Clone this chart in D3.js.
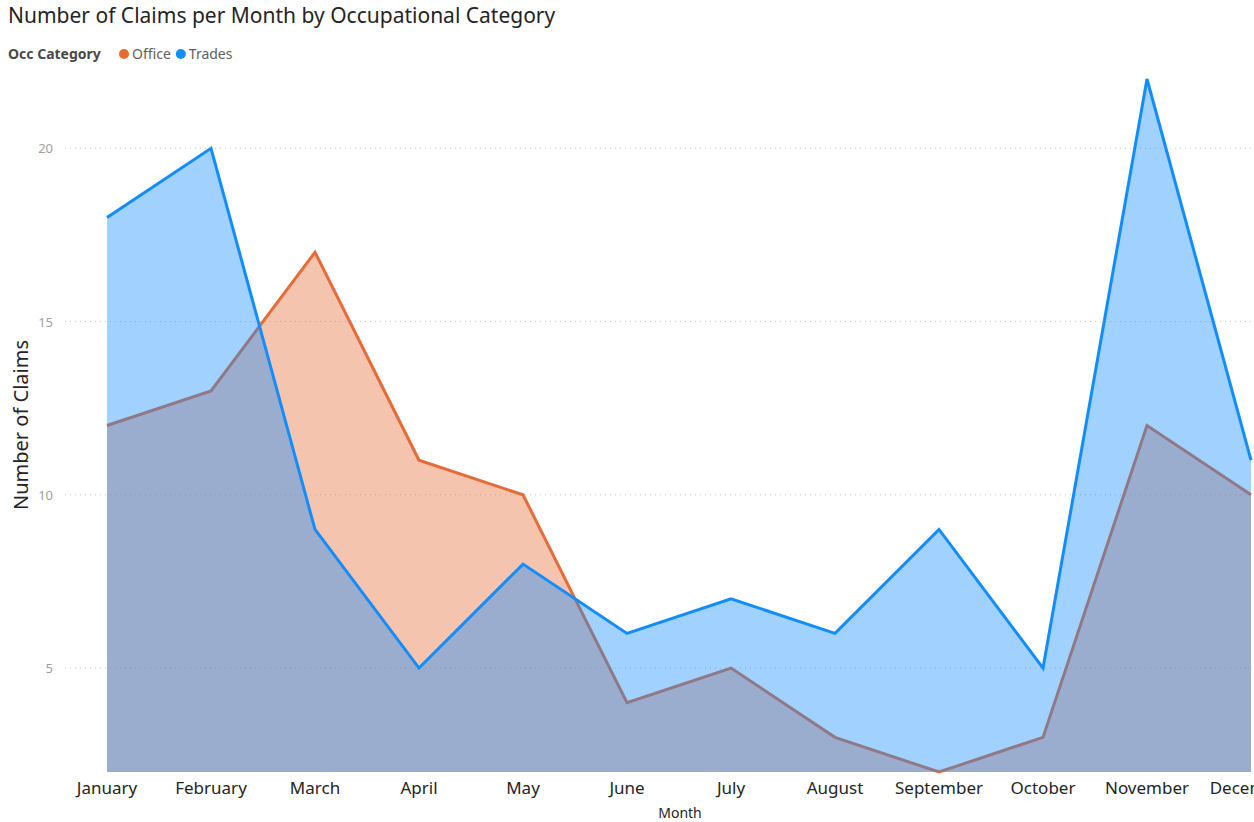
<!DOCTYPE html>
<html>
<head>
<meta charset="utf-8">
<script src="https://cdn.jsdelivr.net/npm/d3@7"></script>
<style>
  body { margin: 0; background: #fff; }
  svg { display: block; font-family: "Noto Sans", "Open Sans", sans-serif; }
</style>
</head>
<body>
<div id="chart"></div>
<script>
// Chart data
const months = ["January", "February", "March", "April", "May", "June",
                "July", "August", "September", "October", "November", "December"];
const office = [12, 13, 17, 11, 10, 4, 5, 3, 2, 3, 12, 10];
const trades = [18, 20, 9, 5, 8, 6, 7, 6, 9, 5, 22, 11];
const yTicks = [5, 10, 15, 20];
const seriesNames = ["Office", "Trades"];
const seriesColors = ["#E66C37", "#118DFF"];

const width = 1254;
const height = 822;

const svg = d3.select("#chart")
  .append("svg")
  .attr("width", width)
  .attr("height", height);

const x = d3.scalePoint()
  .domain(months)
  .range([107, 1251]);

const y = d3.scaleLinear()
  .domain([2, 22])
  .range([772, 79]);

// Title
svg.append("text")
  .attr("x", 8)
  .attr("y", 23)
  .attr("font-size", 21)
  .attr("fill", "#252423")
  .text("Number of Claims per Month by Occupational Category");

// Legend
const legend = svg.append("g").attr("transform", "translate(8,54)");
legend.append("text")
  .attr("x", 0)
  .attr("y", 5)
  .attr("font-size", 14)
  .attr("font-weight", "bold")
  .attr("fill", "#4A4847")
  .text("Occ Category");
let lx = 111;
seriesNames.forEach((name, i) => {
  legend.append("circle")
    .attr("cx", lx + 5)
    .attr("cy", 0)
    .attr("r", 5)
    .attr("fill", seriesColors[i]);
  const t = legend.append("text")
    .attr("x", lx + 13)
    .attr("y", 5)
    .attr("font-size", 14)
    .attr("fill", "#605E5C")
    .text(name);
  lx += 13 + t.node().getComputedTextLength() + 5;
});

// Gridlines + y tick labels
const grid = svg.append("g");
grid.selectAll("line")
  .data(yTicks)
  .join("line")
  .attr("x1", 65)
  .attr("x2", width)
  .attr("y1", d => y(d))
  .attr("y2", d => y(d))
  .attr("stroke", "#C8C6C4")
  .attr("stroke-width", 1)
  .attr("stroke-dasharray", "1,4");
grid.selectAll("text")
  .data(yTicks)
  .join("text")
  .attr("x", 53)
  .attr("y", d => y(d) + 5)
  .attr("text-anchor", "end")
  .attr("font-size", 13)
  .attr("fill", "#A19F9D")
  .text(d => d);

// Y axis title
svg.append("text")
  .attr("transform", "translate(28,425) rotate(-90)")
  .attr("text-anchor", "middle")
  .attr("font-size", 20)
  .attr("fill", "#252423")
  .text("Number of Claims");

// Areas and lines; Office under, Trades on top
const area = d3.area()
  .x((d, i) => x(months[i]))
  .y0(y(2))
  .y1(d => y(d));
const line = d3.line()
  .x((d, i) => x(months[i]))
  .y(d => y(d));

[office, trades].forEach((vals, i) => {
  svg.append("path")
    .datum(vals)
    .attr("d", area)
    .attr("fill", seriesColors[i])
    .attr("fill-opacity", 0.4);
  svg.append("path")
    .datum(vals)
    .attr("d", line)
    .attr("fill", "none")
    .attr("stroke", seriesColors[i])
    .attr("stroke-width", 3)
    .attr("stroke-linejoin", "miter");
});

// X axis labels (December runs off the right edge, as in the source)
svg.append("g").selectAll("text")
  .data(months)
  .join("text")
  .attr("x", d => x(d))
  .attr("y", 794)
  .attr("text-anchor", "middle")
  .attr("font-size", 17)
  .attr("fill", "#252423")
  .text(d => d);

svg.append("text")
  .attr("x", 680)
  .attr("y", 818)
  .attr("text-anchor", "middle")
  .attr("font-size", 14)
  .attr("fill", "#252423")
  .text("Month");
</script>
</body>
</html>
